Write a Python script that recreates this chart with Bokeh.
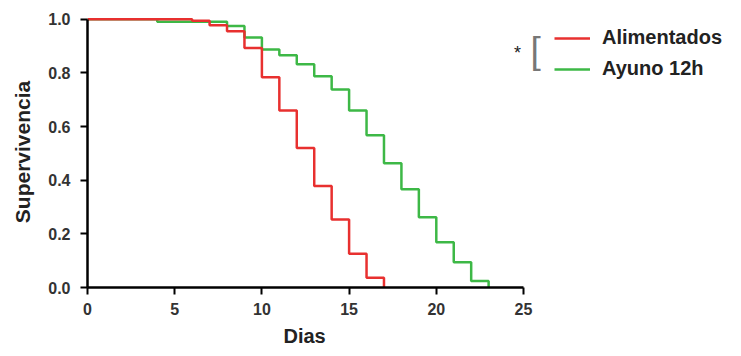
from bokeh.plotting import figure
from bokeh.models import Range1d, Legend, LegendItem, Label, FixedTicker, CustomJSTickFormatter, Title
from bokeh.embed import file_html
from bokeh.resources import INLINE

# Kaplan-Meier survival steps (day, survival fraction)
alim_days = [0, 6, 7, 8, 9, 10, 11, 12, 13, 14, 15, 16, 17]
alim_surv = [1.0, 0.994, 0.977, 0.955, 0.893, 0.784, 0.66, 0.52, 0.378, 0.253, 0.126, 0.036, 0.0]

ayuno_days = [0, 4, 8, 9, 10, 11, 12, 13, 14, 15, 16, 17, 18, 19, 20, 21, 22, 23]
ayuno_surv = [1.0, 0.99, 0.975, 0.932, 0.887, 0.866, 0.832, 0.787, 0.738, 0.66, 0.567,
              0.463, 0.366, 0.262, 0.169, 0.094, 0.024, 0.0]

x_ticks = [0, 5, 10, 15, 20, 25]
y_ticks = [0.0, 0.2, 0.4, 0.6, 0.8, 1.0]
series_labels = ["Alimentados", "Ayuno 12h"]

RED = "#e8302f"
GREEN = "#3db846"
FONT = "Liberation Sans"

# frame: left at 87px, width 654px; day 25 sits at 436px from the left edge
X_END = 25 * 654 / 436

p = figure(width=741, height=356, output_backend="svg", toolbar_location=None,
           x_range=Range1d(0, X_END), y_range=Range1d(0, 1.01),
           min_border_left=87, min_border_right=0, min_border_top=16, min_border_bottom=69)
p.outline_line_color = None
p.grid.visible = False
p.background_fill_color = "white"

g = p.step(ayuno_days, ayuno_surv, mode="after", line_color=GREEN, line_width=2.5)
r = p.step(alim_days, alim_surv, mode="after", line_color=RED, line_width=2.5)

for ax in (p.xaxis[0], p.yaxis[0]):
    ax.axis_line_width = 2.5
    ax.axis_line_color = "black"
    ax.major_tick_line_width = 2
    ax.major_tick_line_color = "black"
    ax.major_tick_out = 7
    ax.major_tick_in = 0
    ax.minor_tick_line_color = None
    ax.major_label_text_font = FONT
    ax.major_label_text_font_style = "bold"
    ax.major_label_text_font_size = "16px"
    ax.major_label_text_color = "#333333"
    ax.axis_label_text_font = FONT
    ax.axis_label_text_font_style = "bold"
    ax.axis_label_text_font_size = "21px"
    ax.axis_label_text_color = "#222222"

p.xaxis.major_label_standoff = 8
p.yaxis.major_label_standoff = 10
p.xaxis.ticker = FixedTicker(ticks=x_ticks)
p.yaxis.ticker = FixedTicker(ticks=y_ticks)
p.yaxis.formatter = CustomJSTickFormatter(code="return tick.toFixed(1);")
p.yaxis.bounds = (0, 1)
p.xaxis.bounds = (0, 25)
p.yaxis.axis_label = "Supervivencia"
p.yaxis.axis_label_standoff = 11

xtitle = Title(text="Dias", align="left", offset=196, standoff=11,
               text_font=FONT, text_font_style="bold", text_font_size="20px",
               text_color="#222222")
p.add_layout(xtitle, "below")

legend = Legend(items=[LegendItem(label=series_labels[0], renderers=[r]),
                       LegendItem(label=series_labels[1], renderers=[g])],
                location=(467, 207))
legend.label_text_font = FONT
legend.label_text_font_style = "bold"
legend.label_text_font_size = "20px"
legend.label_text_color = "#222222"
legend.glyph_width = 36
legend.glyph_height = 20
legend.label_height = 20
legend.spacing = 8
legend.label_standoff = 12
legend.padding = 8
legend.margin = 0
legend.border_line_color = None
legend.background_fill_alpha = 0
p.add_layout(legend, "center")

star = Label(x=24.66, y=0.873, text="*", text_font=FONT, text_font_size="18px",
             text_color="#222222", text_align="center", text_baseline="middle")
bracket = Label(x=25.7, y=0.883, text="[", text_font=FONT, text_font_size="37px",
                text_color="#777777", text_align="center", text_baseline="middle")
p.add_layout(star)
p.add_layout(bracket)

open("out.html", "w").write(file_html(p, INLINE))
